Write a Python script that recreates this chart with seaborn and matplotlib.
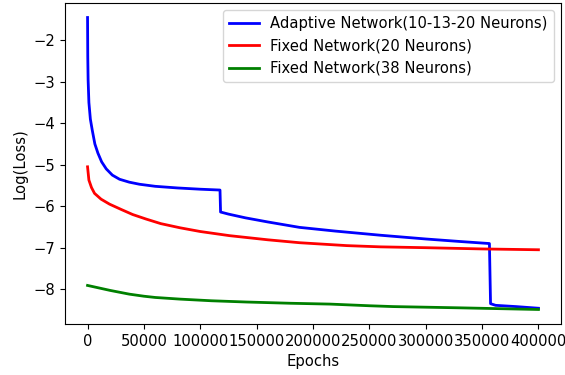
import matplotlib
matplotlib.use("Agg")
import matplotlib.pyplot as plt
import seaborn as sns

blue_x = [0, 200, 500, 1200, 2500, 4200, 6500, 9200, 12500, 16600, 22000, 28400, 37000, 46000,
          60000, 80000, 100000, 117500,
          118000, 125000, 140000, 160000, 188000, 220000, 260000, 300000, 330000, 356500,
          357500, 362000, 380000, 400000]
blue_y = [-1.45, -2.4, -2.95, -3.5, -3.9, -4.17, -4.5, -4.72, -4.93, -5.1, -5.25, -5.35, -5.42, -5.47,
          -5.52, -5.56, -5.59, -5.61,
          -6.14, -6.19, -6.28, -6.38, -6.51, -6.6, -6.7, -6.79, -6.85, -6.9,
          -8.35, -8.39, -8.42, -8.46]

red_x = [0, 1200, 3500, 6200, 12000, 19500, 30000, 40000, 52000, 65000, 82000, 100000, 126000,
         160000, 188000, 230000, 260000, 300000, 350000, 400000]
red_y = [-5.05, -5.37, -5.55, -5.69, -5.83, -5.95, -6.08, -6.2, -6.31, -6.42, -6.52, -6.61, -6.71,
         -6.81, -6.88, -6.95, -6.98, -7.0, -7.03, -7.05]

green_x = [0, 10000, 20000, 37000, 50000, 60000, 82000, 110000, 141000, 180000, 215000, 250000,
           271000, 330000, 400000]
green_y = [-7.91, -7.97, -8.03, -8.12, -8.17, -8.2, -8.24, -8.28, -8.31, -8.34, -8.36, -8.4,
           -8.42, -8.45, -8.49]

labels = ["Adaptive Network(10-13-20 Neurons)", "Fixed Network(20 Neurons)", "Fixed Network(38 Neurons)"]
colors = ["blue", "red", "green"]

plt.rcParams["font.size"] = 10.6

fig = plt.figure(figsize=(5.65, 3.75), dpi=100)
ax = fig.add_axes([65/565, 1-324/375, (561-65)/565, (324-3)/375])

for xs, ys, c, lab in zip([blue_x, red_x, green_x], [blue_y, red_y, green_y], colors, labels):
    sns.lineplot(x=xs, y=ys, color=c, label=lab, estimator=None, sort=False, linewidth=2, ax=ax)

ax.set_xlim(-20000, 420000)
ax.set_ylim(-8.84, -1.1)
ax.set_xticks(range(0, 400001, 50000))
ax.set_yticks([-8, -7, -6, -5, -4, -3, -2])
ax.set_xlabel("Epochs")
ax.set_ylabel("Log(Loss)")
ax.legend(loc="upper right")

fig.savefig("out.png", dpi=100)
